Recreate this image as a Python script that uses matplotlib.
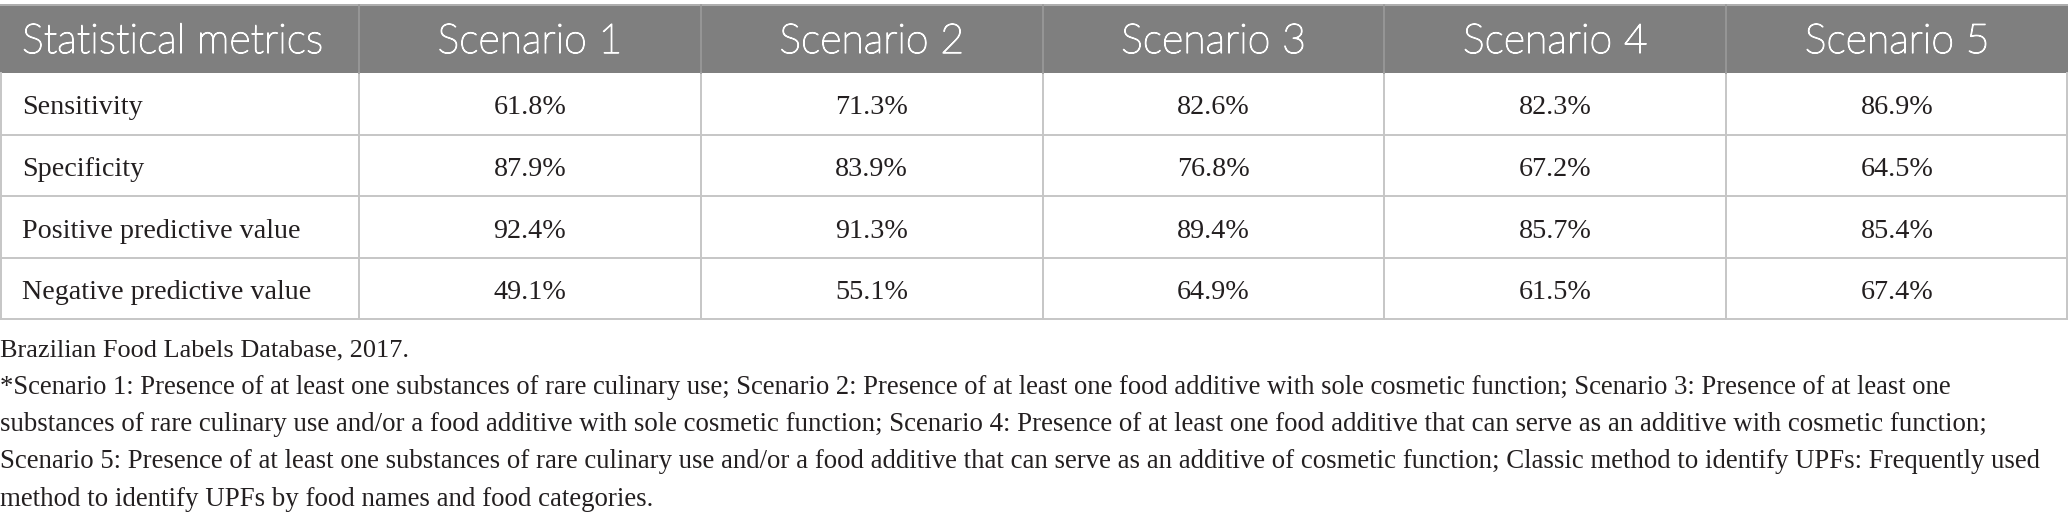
import matplotlib
matplotlib.use("Agg")
import matplotlib.pyplot as plt
import matplotlib.patheffects as pe
from matplotlib.patches import Rectangle

# Table content
header_first = "Statistical metrics"
scenarios = ["Scenario 1", "Scenario 2", "Scenario 3", "Scenario 4", "Scenario 5"]
metrics = ["Sensitivity", "Specificity", "Positive predictive value",
           "Negative predictive value"]
sensitivity = [61.8, 71.3, 82.6, 82.3, 86.9]
specificity = [87.9, 83.9, 76.8, 67.2, 64.5]
ppv = [92.4, 91.3, 89.4, 85.7, 85.4]
npv = [49.1, 55.1, 64.9, 61.5, 67.4]
values = [sensitivity, specificity, ppv, npv]

footnote_lines = [
    "Brazilian Food Labels Database, 2017.",
    "*Scenario 1: Presence of at least one substances of rare culinary use; Scenario 2: Presence of at least one food additive with sole cosmetic function; Scenario 3: Presence of at least one",
    "substances of rare culinary use and/or a food additive with sole cosmetic function; Scenario 4: Presence of at least one food additive that can serve as an additive with cosmetic function;",
    "Scenario 5: Presence of at least one substances of rare culinary use and/or a food additive that can serve as an additive of cosmetic function; Classic method to identify UPFs: Frequently used",
    "method to identify UPFs by food names and food categories.",
]
# line lengths in the reference (px), used to size the serif text
footnote_widths = [408, 1951, 1987, 2042, 654]

# Layout in pixels
W, H = 2068, 521
first_col_w = 359
header_top, header_bot = 4, 73
row_h = 61.5
pad_left = 22

HEADER_BG = "#7f7f7f"
GRID = "#c6c6c6"
TEXT = "#231f20"
SANS = ["Lato", "Open Sans", "DejaVu Sans"]
SERIF = ["Liberation Serif", "DejaVu Serif"]

fig = plt.figure(figsize=(W / 100, H / 100), dpi=100)
ax = fig.add_axes([0, 0, 1, 1])
ax.set_xlim(0, W)
ax.set_ylim(H, 0)
ax.axis("off")
renderer = fig.canvas.get_renderer()


def fit_size(text, family, target_px, weight="normal", base=20):
    t = ax.text(0, 0, text, fontsize=base, family=family, weight=weight)
    w = t.get_window_extent(renderer).width
    t.remove()
    return base * target_px / w


head_size = fit_size(header_first, SANS, 301, weight="light")
body_size = fit_size(metrics[3], SERIF, 290)
head_fx = [pe.withStroke(linewidth=0.9, foreground="white")]

ncols = len(scenarios)
col_w = (W - first_col_w) / ncols
col_edges = [0, first_col_w] + [first_col_w + col_w * (i + 1) for i in range(ncols)]
n_rows = len(metrics)
row_edges = [header_bot + row_h * i for i in range(n_rows + 1)]
table_bot = row_edges[-1]

# header band
ax.add_patch(Rectangle((0, header_top), W, header_bot - header_top,
                       facecolor=HEADER_BG, edgecolor="none"))
ax.plot([0, W], [header_top + 0.5, header_top + 0.5], color="#b8b8b8", lw=1.2)
ax.text(pad_left, header_top + 49, header_first, color="white", fontsize=head_size,
        family=SANS, weight="light", ha="left", va="baseline", path_effects=head_fx)
for i, name in enumerate(scenarios):
    cx = (col_edges[i + 1] + col_edges[i + 2]) / 2
    ax.text(cx, header_top + 49, name, color="white", fontsize=head_size,
            family=SANS, weight="light", ha="center", va="baseline",
            path_effects=head_fx)

# grid lines
for y in row_edges[1:]:
    ax.plot([0, W], [y, y], color=GRID, lw=1.4, solid_capstyle="butt")
for j, x in enumerate(col_edges):
    xx = min(max(x, 0.8), W - 0.8)
    ax.plot([xx, xx], [header_bot, table_bot], color=GRID, lw=1.4)
    if 0 < j < len(col_edges) - 1:
        ax.plot([xx, xx], [header_top + 1, header_bot], color="#9a9a9a", lw=1.2)

# body cells
for r, (name, row) in enumerate(zip(metrics, values)):
    base_y = row_edges[r] + 41.5
    ax.text(pad_left, base_y, name, color=TEXT, fontsize=body_size, family=SERIF,
            ha="left", va="baseline")
    for i, v in enumerate(row):
        cx = (col_edges[i + 1] + col_edges[i + 2]) / 2
        ax.text(cx, base_y, f"{v:.1f}%", color=TEXT, fontsize=body_size,
                family=SERIF, ha="center", va="baseline")

# footnotes
for k, (line, width) in enumerate(zip(footnote_lines, footnote_widths)):
    size = fit_size(line, SERIF, width)
    ax.text(0, 356 + 37.5 * k, line, color=TEXT, fontsize=size, family=SERIF,
            ha="left", va="baseline")

fig.savefig("out.png", dpi=100, facecolor="white")
